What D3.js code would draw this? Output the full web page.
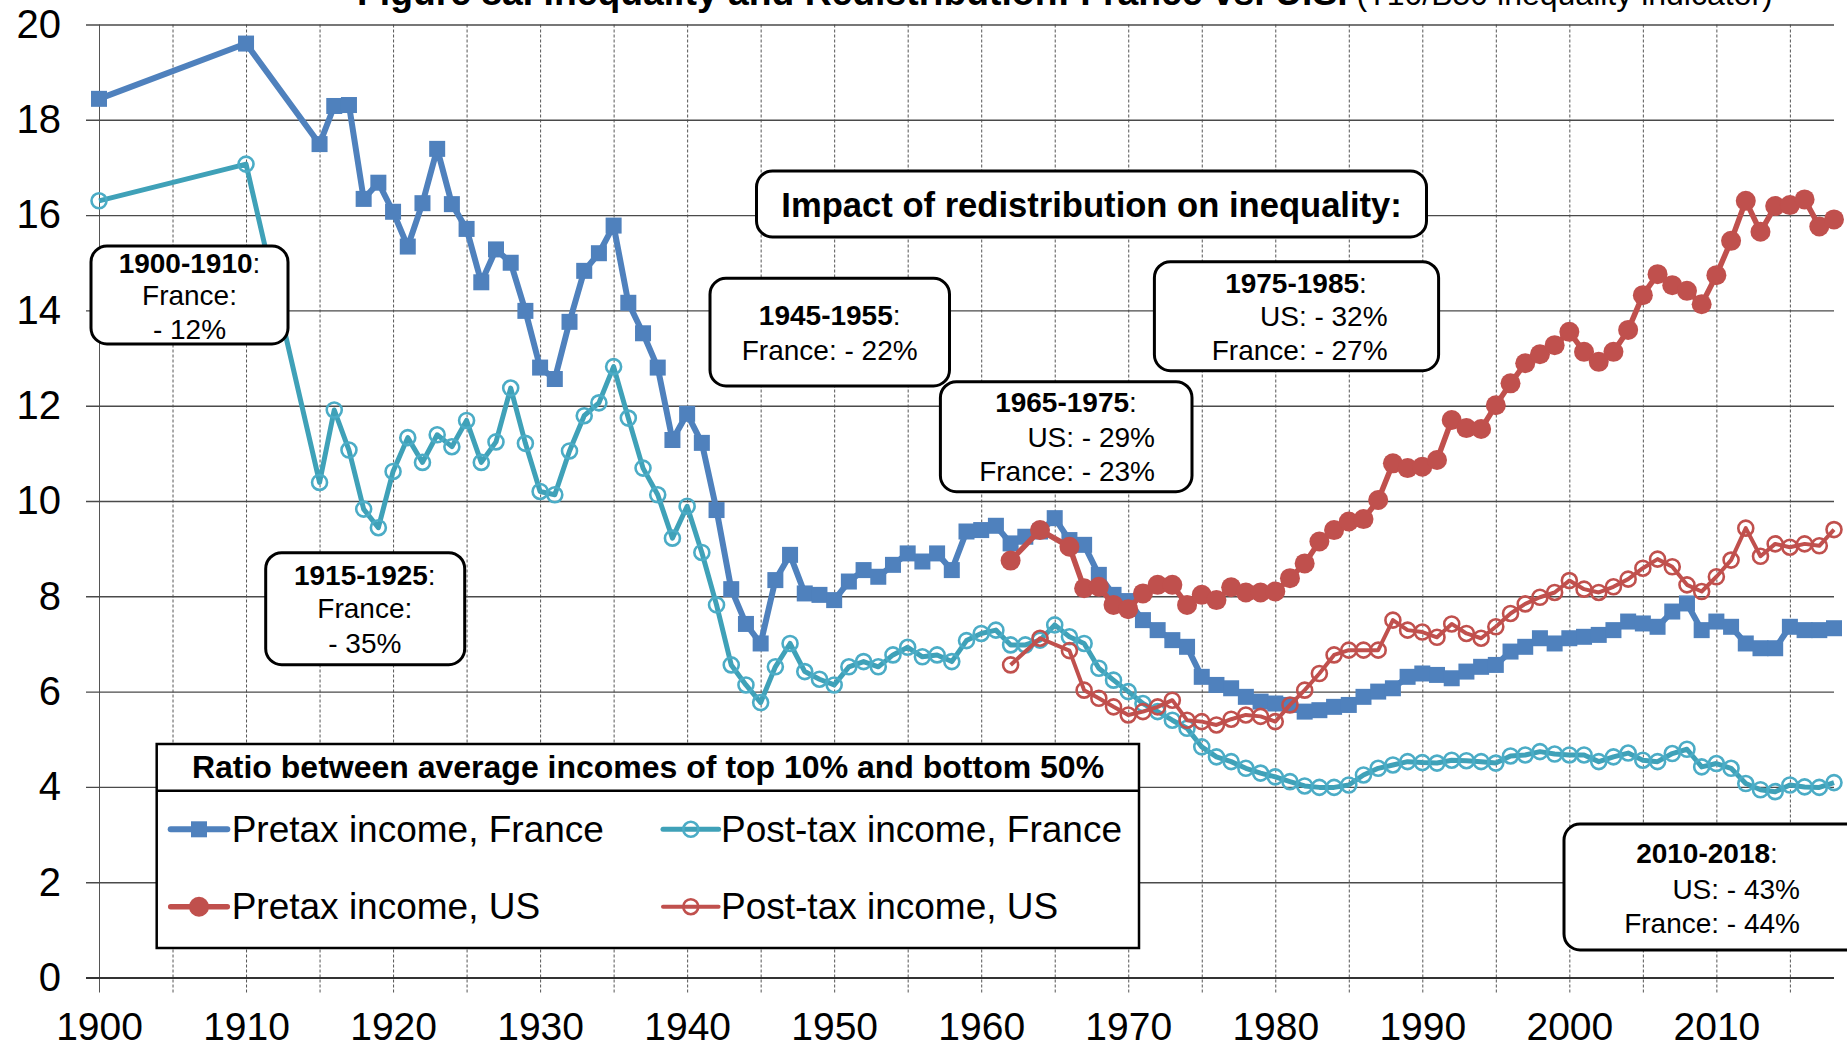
<!DOCTYPE html>
<html><head><meta charset="utf-8">
<script src="https://cdn.jsdelivr.net/npm/d3@7"></script>
<style>
html,body{margin:0;padding:0;background:#fff;}
svg{display:block;font-family:"Liberation Sans",Arial,Helvetica,sans-serif;}
</style></head><body>
<svg id="c" width="1847" height="1047"></svg>
<script>
// ---------------- DATA ----------------
const frYears = [1900,1910,1915,1916,1917,1918,1919,1920,1921,1922,1923,1924,1925,1926,1927,1928,1929,
1930,1931,1932,1933,1934,1935,1936,1937,1938,1939,1940,1941,1942,1943,1944,1945,1946,1947,1948,1949,
1950,1951,1952,1953,1954,1955,1956,1957,1958,1959,1960,1961,1962,1963,1964,1965,1966,1967,1968,1969,
1970,1971,1972,1973,1974,1975,1976,1977,1978,1979,1980,1981,1982,1983,1984,1985,1986,1987,1988,1989,
1990,1991,1992,1993,1994,1995,1996,1997,1998,1999,2000,2001,2002,2003,2004,2005,2006,2007,2008,2009,
2010,2011,2012,2013,2014,2015,2016,2017,2018];

const frPretax = [18.44,19.60,17.49,18.29,18.31,16.34,16.68,16.07,15.34,16.25,17.39,16.23,15.71,14.59,15.28,15.00,13.99,
12.80,12.56,13.76,14.83,15.20,15.78,14.16,13.52,12.80,11.28,11.83,11.22,9.81,8.15,7.42,7.01,8.34,8.87,8.06,8.03,
7.92,8.31,8.55,8.41,8.66,8.90,8.73,8.90,8.55,9.36,9.39,9.48,9.11,9.25,9.36,9.64,9.18,9.08,8.45,8.03,
7.90,7.50,7.29,7.08,6.94,6.31,6.14,6.07,5.89,5.79,5.75,5.72,5.58,5.61,5.68,5.72,5.89,6.00,6.07,6.31,
6.38,6.35,6.28,6.42,6.52,6.56,6.84,6.94,7.12,7.01,7.12,7.15,7.19,7.29,7.47,7.43,7.36,7.68,7.85,7.29,
7.47,7.36,7.01,6.91,6.91,7.36,7.29,7.29,7.33];

const frPosttax = [16.30,17.07,10.39,11.91,11.07,9.83,9.44,10.62,11.33,10.81,11.39,11.14,11.69,10.81,11.24,12.37,11.21,
10.20,10.13,11.05,11.79,12.06,12.82,11.74,10.69,10.13,9.22,9.89,8.92,7.82,6.56,6.14,5.77,6.52,7.01,6.42,6.26,
6.14,6.52,6.63,6.52,6.77,6.93,6.73,6.77,6.63,7.07,7.22,7.29,6.98,6.98,7.08,7.40,7.15,7.01,6.49,6.24,
6.00,5.75,5.58,5.40,5.23,4.84,4.63,4.53,4.39,4.29,4.21,4.11,4.02,3.99,3.99,4.04,4.25,4.39,4.46,4.53,
4.51,4.50,4.56,4.55,4.53,4.50,4.65,4.67,4.74,4.69,4.67,4.67,4.53,4.63,4.71,4.56,4.53,4.70,4.79,4.42,
4.49,4.39,4.07,3.94,3.90,4.04,4.00,3.99,4.09];

const usYears = [1962,1964,1966,1967,1968,1969,1970,1971,1972,1973,1974,1975,1976,1977,1978,1979,
1980,1981,1982,1983,1984,1985,1986,1987,1988,1989,1990,1991,1992,1993,1994,1995,1996,1997,1998,1999,
2000,2001,2002,2003,2004,2005,2006,2007,2008,2009,2010,2011,2012,2013,2014,2015,2016,2017,2018];

const usPretax = [8.75,9.39,9.04,8.17,8.20,7.82,7.73,8.06,8.24,8.24,7.82,8.03,7.92,8.19,8.08,8.08,
8.10,8.38,8.69,9.15,9.39,9.57,9.62,10.02,10.79,10.69,10.72,10.86,11.70,11.53,11.51,12.01,12.47,12.89,13.08,13.27,
13.55,13.13,12.92,13.13,13.59,14.32,14.76,14.53,14.41,14.13,14.74,15.46,16.30,15.65,16.19,16.21,16.33,15.76,15.91];

const usPosttax = [6.56,7.12,6.86,6.03,5.86,5.68,5.51,5.58,5.68,5.82,5.40,5.37,5.30,5.42,5.51,5.48,
5.37,5.72,6.03,6.38,6.77,6.87,6.87,6.87,7.50,7.29,7.25,7.14,7.42,7.22,7.12,7.36,7.64,7.84,7.98,8.08,
8.33,8.15,8.08,8.20,8.36,8.59,8.78,8.62,8.24,8.10,8.41,8.76,9.43,8.84,9.10,9.03,9.10,9.06,9.40];

const yTicks = [0,2,4,6,8,10,12,14,16,18,20];
const xGridYears = [1900,1905,1910,1915,1920,1925,1930,1935,1940,1945,1950,1955,1960,1965,1970,1975,1980,1985,1990,1995,2000,2005,2010,2015];
const xLabelYears = [1900,1910,1920,1930,1940,1950,1960,1970,1980,1990,2000,2010];

const seriesNames = ["Pretax income, France","Post-tax income, France","Pretax income, US","Post-tax income, US"];
const titleBold = "Figure 8a. Inequality and Redistribution: France vs. U.S.";
const titleNormal = " (T10/B50 inequality indicator)";
const legendTitle = "Ratio between average incomes of top 10% and bottom 50%";
const impactTitle = "Impact of redistribution on inequality:";

// ---------------- DRAWING ----------------
const svg = d3.select("#c");
const x = d3.scaleLinear().domain([1900, 2018]).range([99, 1834]);
const y = d3.scaleLinear().domain([0, 20]).range([977.5, 24.5]);

const BLUE = "#4F81BD", TEAL = "#4BACC6", TEAL_LINE = "#3FA1B8", RED = "#C0504D";

// vertical dashed gridlines via bottom axis
const gx = svg.append("g").attr("transform", `translate(0,${y(20)})`)
  .call(d3.axisBottom(x).tickValues(xGridYears)
    .tickSize(y(0) + 15 - y(20)).tickPadding(20)
    .tickFormat(d => xLabelYears.includes(d) ? String(d) : ""));
gx.select(".domain").remove();
gx.selectAll(".tick line").attr("stroke", "#555").attr("stroke-width", 1)
  .attr("stroke-dasharray", d => d === 1900 ? null : "3,2");
gx.selectAll(".tick text").attr("fill", "#000").attr("font-size", 39)
  .attr("font-family", '"Liberation Sans",Arial,sans-serif');

// horizontal gridlines + y labels via left axis
const gy = svg.append("g").attr("transform", `translate(86,0)`)
  .call(d3.axisLeft(y).tickValues(yTicks).tickSize(-(x(2018) - 86)).tickPadding(25).tickFormat(d3.format("d")));
gy.select(".domain").remove();
gy.selectAll(".tick line").attr("stroke", d => d === 0 ? "#333" : "#4a4a4a")
  .attr("stroke-width", d => d === 0 ? 2 : 1.4);
gy.selectAll(".tick text").attr("fill", "#000").attr("font-size", 40)
  .attr("font-family", '"Liberation Sans",Arial,sans-serif');

// title
const tt = svg.append("text").attr("x", 357).attr("y", 5).attr("fill", "#000");
tt.append("tspan").attr("font-weight", "bold").attr("font-size", 37.3).text(titleBold);
tt.append("tspan").attr("font-size", 32).text(titleNormal);

// series
function seriesData(years, vals) { return years.map((yr, i) => ({yr, v: vals[i]})); }
const line = d3.line().x(d => x(d.yr)).y(d => y(d.v));

const S = [
  {data: seriesData(frYears, frPretax), lc: BLUE, lw: 6, m: "square"},
  {data: seriesData(frYears, frPosttax), lc: TEAL_LINE, lw: 5, m: "ocircle", mc: TEAL},
  {data: seriesData(usYears, usPretax), lc: RED, lw: 5.5, m: "circle"},
  {data: seriesData(usYears, usPosttax), lc: RED, lw: 4, m: "ocircle", mc: RED}
];

function drawMarker(g, type, col, cx, cy) {
  if (type === "square") {
    g.append("rect").attr("x", cx - 8).attr("y", cy - 8).attr("width", 16).attr("height", 16).attr("fill", col);
  } else if (type === "circle") {
    g.append("circle").attr("cx", cx).attr("cy", cy).attr("r", 10).attr("fill", col);
  } else {
    g.append("circle").attr("cx", cx).attr("cy", cy).attr("r", 7.5).attr("fill", "none")
      .attr("stroke", col).attr("stroke-width", 2.6);
  }
}

S.forEach(s => {
  const g = svg.append("g");
  g.append("path").datum(s.data).attr("d", line).attr("fill", "none")
    .attr("stroke", s.lc).attr("stroke-width", s.lw).attr("stroke-linejoin", "round");
  s.data.forEach(d => drawMarker(g, s.m, s.mc || s.lc, x(d.yr), y(d.v)));
});

// annotation boxes
function box(rx, ry, w, h) {
  svg.append("rect").attr("x", rx).attr("y", ry).attr("width", w).attr("height", h)
    .attr("rx", 16).attr("ry", 16).attr("fill", "#fff").attr("stroke", "#000").attr("stroke-width", 3);
}
function txt(xp, yp, parts, anchor, fs) {
  const t = svg.append("text").attr("x", xp).attr("y", yp).attr("text-anchor", anchor || "middle")
    .attr("font-size", fs || 28).attr("fill", "#000");
  parts.forEach(p => t.append("tspan").attr("font-weight", p[1] ? "bold" : "normal").text(p[0]));
}

box(91, 246, 197, 98);
txt(189.5, 272.7, [["1900-1910", 1], [":", 0]]);
txt(189.5, 305, [["France:", 0]]);
txt(189.5, 339, [["- 12%", 0]]);

box(265.7, 552.7, 199, 112);
txt(364.8, 585, [["1915-1925", 1], [":", 0]]);
txt(364.8, 618.3, [["France:", 0]]);
txt(364.8, 652.7, [["- 35%", 0]]);

box(710, 278.3, 239.5, 107.7);
txt(829.7, 325, [["1945-1955", 1], [":", 0]]);
txt(829.7, 360, [["France: - 22%", 0]]);

box(756.5, 171, 670, 66);
txt(1091.6, 216.7, [[impactTitle, 1]], "middle", 34.6);

box(940.4, 381.7, 251.6, 110);
txt(1066, 411.7, [["1965-1975", 1], [":", 0]]);
txt(1155, 446.7, [["US: - 29%", 0]], "end");
txt(1155, 480.7, [["France: - 23%", 0]], "end");

box(1154.4, 261.7, 284.2, 109);
txt(1296, 292.7, [["1975-1985", 1], [":", 0]]);
txt(1387.6, 326, [["US: - 32%", 0]], "end");
txt(1387.6, 360, [["France: - 27%", 0]], "end");

box(1564, 824, 310, 126);
txt(1707, 863, [["2010-2018", 1], [":", 0]]);
txt(1800, 898.5, [["US: - 43%", 0]], "end");
txt(1800, 933, [["France: - 44%", 0]], "end");

// legend
svg.append("rect").attr("x", 156.7).attr("y", 744).attr("width", 982.3).attr("height", 204)
  .attr("fill", "#fff").attr("stroke", "#000").attr("stroke-width", 2.5);
svg.append("line").attr("x1", 156.7).attr("x2", 1139).attr("y1", 790.7).attr("y2", 790.7)
  .attr("stroke", "#000").attr("stroke-width", 2.5);
txt(648, 778, [[legendTitle, 1]], "middle", 32);

const legPos = [
  {x0: 170.7, x1: 227.3, ly: 829.3, tx: 231.7, ty: 841.7},
  {x0: 663, x1: 718.6, ly: 829.3, tx: 721, ty: 841.7},
  {x0: 170.7, x1: 227.3, ly: 906.7, tx: 231.7, ty: 918.5},
  {x0: 663, x1: 718.6, ly: 906.7, tx: 721, ty: 918.5}
];
S.forEach((s, i) => {
  const p = legPos[i];
  const g = svg.append("g");
  g.append("line").attr("x1", p.x0).attr("x2", p.x1).attr("y1", p.ly).attr("y2", p.ly)
    .attr("stroke", s.lc).attr("stroke-width", s.lw).attr("stroke-linecap", "round");
  drawMarker(g, s.m, s.mc || s.lc, (p.x0 + p.x1) / 2, p.ly);
  g.append("text").attr("x", p.tx).attr("y", p.ty).attr("font-size", 37).attr("fill", "#000").text(seriesNames[i]);
});
</script>
</body></html>
